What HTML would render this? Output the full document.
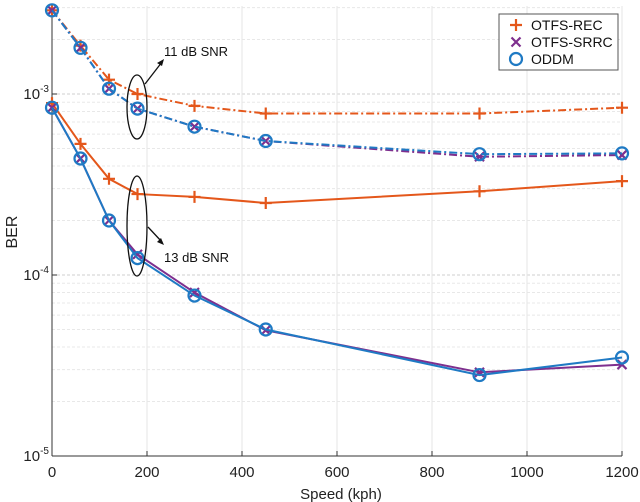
<!DOCTYPE html>
<html><head><meta charset="utf-8"><style>
html,body{margin:0;padding:0;background:#fff}
svg{display:block;font-family:"Liberation Sans",Arial,sans-serif}
</style></head><body>
<svg id="chart" width="640" height="502" viewBox="0 0 640 502"></svg>
<script>
const speeds = [0, 60, 120, 180, 300, 450, 900, 1200];
const rec11 = [2.9e-3, 1.85e-3, 1.2e-3, 1.0e-3, 8.6e-4, 7.8e-4, 7.8e-4, 8.4e-4];
const srrc11 = [2.9e-3, 1.8e-3, 1.07e-3, 8.3e-4, 6.6e-4, 5.5e-4, 4.5e-4, 4.6e-4];
const oddm11 = [2.9e-3, 1.8e-3, 1.07e-3, 8.3e-4, 6.6e-4, 5.5e-4, 4.65e-4, 4.7e-4];
const rec13 = [8.9e-4, 5.3e-4, 3.4e-4, 2.8e-4, 2.7e-4, 2.5e-4, 2.9e-4, 3.3e-4];
const srrc13 = [8.4e-4, 4.4e-4, 2.0e-4, 1.3e-4, 8.0e-5, 4.95e-5, 2.9e-5, 3.2e-5];
const oddm13 = [8.4e-4, 4.4e-4, 2.0e-4, 1.24e-4, 7.7e-5, 5.0e-5, 2.8e-5, 3.5e-5];
const xTicks = [0, 200, 400, 600, 800, 1000, 1200];
const yDecades = [-5, -4, -3];

const NS = "http://www.w3.org/2000/svg";
const svg = document.getElementById("chart");
const X0 = 52, XW = 570, YB = 456, DEC = 181;
function xs(v){ return X0 + v / 1200 * XW; }
function ys(v){ return YB - (Math.log10(v) + 5) * DEC; }
function mk(tag, attrs, parent){
  const e = document.createElementNS(NS, tag);
  for (const k in attrs) e.setAttribute(k, attrs[k]);
  (parent || svg).appendChild(e);
  return e;
}
const TOP = 6;
const grid = mk("g", {});


for (const d of yDecades) {
  for (let m = 1; m < 10; m++) {
    const v = m * Math.pow(10, d);
    const y = ys(v);
    if (y < TOP || y > YB) continue;
    if (m === 1 && d === -5) continue;
    const l = mk("line", {x1: X0, x2: X0 + XW, y1: y, y2: y, stroke: m === 1 ? "#cfcfcf" : "#e8e8e8", "stroke-dasharray": "3,2", "stroke-width": 1}, grid);
    
    
  }
}
for (const t of xTicks) {
  if (t === 0) continue;
  const l = mk("line", {x1: xs(t), x2: xs(t), y1: TOP, y2: YB, stroke: "#e6e6e6", "stroke-width": 1}, grid);
  
  
}
const ax = mk("g", {});


mk("line", {x1: X0, x2: X0, y1: TOP, y2: YB, stroke: "#333", "stroke-width": 1}, ax);
mk("line", {x1: X0, x2: X0 + XW, y1: YB, y2: YB, stroke: "#333", "stroke-width": 1}, ax);
for (const t of xTicks) {
  mk("line", {x1: xs(t), x2: xs(t), y1: YB, y2: YB - 5, stroke: "#333"}, ax);
  const tx = mk("text", {x: xs(t), y: YB + 21, "text-anchor": "middle", "font-size": 15, fill: "#222"}, ax);
  tx.textContent = t;
  
  
}
for (const d of yDecades) {
  const y = ys(Math.pow(10, d));
  mk("line", {x1: X0, x2: X0 + 5, y1: y, y2: y, stroke: "#333"}, ax);
  const tx = mk("text", {x: X0 - 3, y: y + 5, "text-anchor": "end", "font-size": 15, fill: "#222"}, ax);
  tx.innerHTML = '10<tspan dy="-7" font-size="10">' + d + '</tspan>';
  
  
}
const xt = mk("text", {x: X0 + XW / 2 + 4, y: 499, "text-anchor": "middle", "font-size": 15, fill: "#222"});
xt.textContent = "Speed (kph)";


const yt = mk("text", {x: 0, y: 0, "text-anchor": "middle", "font-size": 16, fill: "#222", transform: "translate(17,232) rotate(-90)"});
yt.textContent = "BER";



const ORANGE = "#e4571b", PURPLE = "#7e2f8e", BLUE = "#1f7ac4";
function marker(type, x, y, color, g){
  if (type === "plus") {
    mk("path", {d: `M${x-6},${y}H${x+6}M${x},${y-6}V${y+6}`, stroke: color, "stroke-width": 2.2, fill: "none"}, g);
  } else if (type === "x") {
    mk("path", {d: `M${x-4.5},${y-4.5}L${x+4.5},${y+4.5}M${x-4.5},${y+4.5}L${x+4.5},${y-4.5}`, stroke: color, "stroke-width": 2.2, fill: "none"}, g);
  } else {
    mk("circle", {cx: x, cy: y, r: 6, stroke: color, "stroke-width": 2.2, fill: "none"}, g);
  }
}
function series(name, vals, color, dash, mtype){
  const g = mk("g", {});
  
  
  const pts = speeds.map((s, i) => xs(s) + "," + ys(vals[i])).join(" ");
  const attrs = {points: pts, fill: "none", stroke: color, "stroke-width": 2};
  if (dash) attrs["stroke-dasharray"] = dash;
  mk("polyline", attrs, g);
  speeds.forEach((s, i) => marker(mtype, xs(s), ys(vals[i]), color, g));
}
series("otfs-rec-11db", rec11, ORANGE, "8,3,2,3", "plus");
series("otfs-srrc-11db", srrc11, PURPLE, "8,3,2,3", "x");
series("oddm-11db", oddm11, BLUE, "8,3,2,3", "circle");
series("otfs-rec-13db", rec13, ORANGE, null, "plus");
series("otfs-srrc-13db", srrc13, PURPLE, null, "x");
series("oddm-13db", oddm13, BLUE, null, "circle");

const an = mk("g", {});


mk("ellipse", {cx: 137, cy: 107, rx: 10, ry: 32, fill: "none", stroke: "#111", "stroke-width": 1.3}, an);
mk("ellipse", {cx: 137, cy: 226, rx: 10, ry: 50, fill: "none", stroke: "#111", "stroke-width": 1.3}, an);
mk("line", {x1: 145, y1: 84, x2: 162, y2: 62, stroke: "#111", "stroke-width": 1.3}, an);
mk("path", {d: "M164,59 L157,63 L162,66 Z", fill: "#111"}, an);
mk("line", {x1: 148, y1: 227, x2: 162, y2: 242, stroke: "#111", "stroke-width": 1.3}, an);
mk("path", {d: "M164,245 L157,242 L161,238 Z", fill: "#111"}, an);
const a1 = mk("text", {x: 164, y: 56, "font-size": 13, fill: "#111"}, an);
a1.textContent = "11 dB SNR";


const a2 = mk("text", {x: 164, y: 262, "font-size": 13, fill: "#111"}, an);
a2.textContent = "13 dB SNR";



const lg = mk("g", {});


mk("rect", {x: 499, y: 14, width: 119, height: 56, fill: "#fff", stroke: "#555", "stroke-width": 1}, lg);
const entries = [["OTFS-REC", ORANGE, "plus"], ["OTFS-SRRC", PURPLE, "x"], ["ODDM", BLUE, "circle"]];
entries.forEach((e, i) => {
  const y = 25 + i * 17;
  const eg = mk("g", {}, lg);
  
  
  marker(e[2], 516, y, e[1], eg);
  const t = mk("text", {x: 531, y: y + 5, "font-size": 14, fill: "#111"}, eg);
  t.textContent = e[0];
});
</script>
</body></html>
